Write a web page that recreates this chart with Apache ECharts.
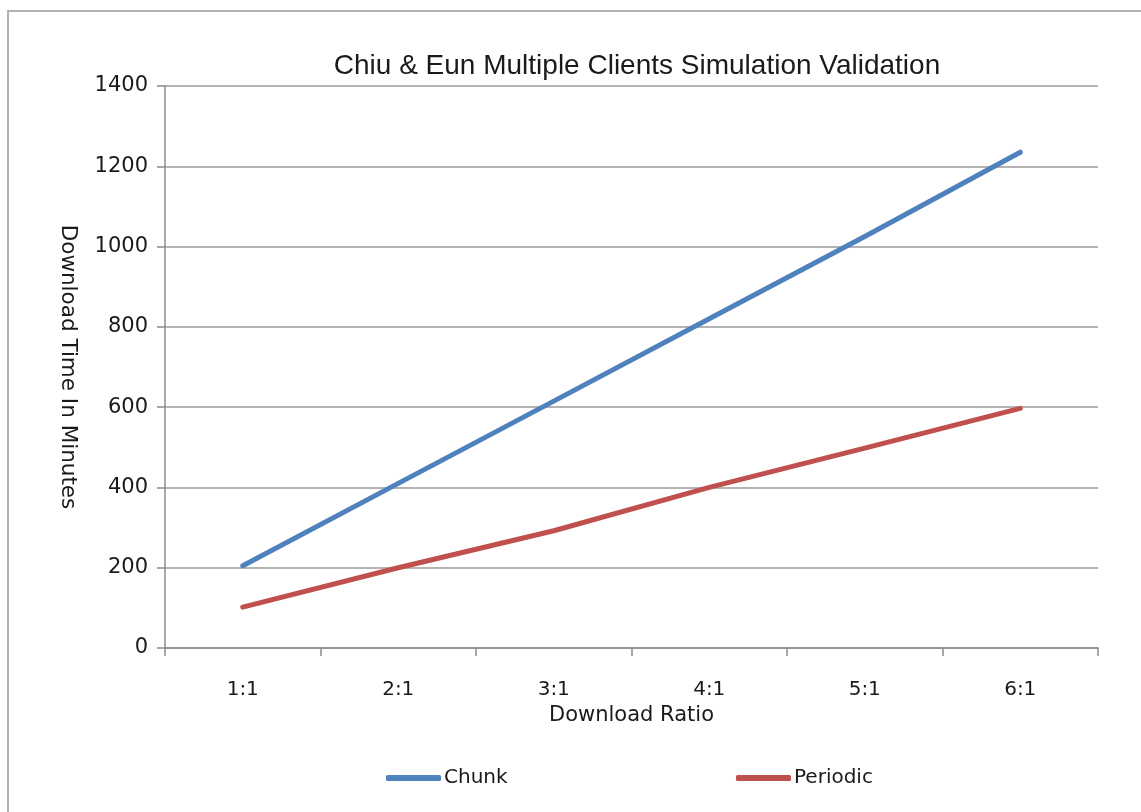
<!DOCTYPE html>
<html>
<head>
<meta charset="utf-8">
<script src="https://cdn.jsdelivr.net/npm/echarts@6/dist/echarts.min.js"></script>
<style>
html,body{margin:0;padding:0;background:#fff;}
#chart{width:1141px;height:812px;}
</style>
</head>
<body>
<div id="chart"></div>
<script>
const titleText = 'Chiu & Eun Multiple Clients Simulation Validation';
const categories = ['1:1', '2:1', '3:1', '4:1', '5:1', '6:1'];
const chunk = [205, 410, 615, 820, 1025, 1235];
const periodic = [102, 200, 292, 400, 498, 597];
const xName = 'Download Ratio';
const yName = 'Download Time In Minutes';

const labelFont = 'DejaVu Sans';
const textColor = '#1a1a1a';
const chart = echarts.init(document.getElementById('chart'));
chart.setOption({
  backgroundColor: '#fff',
  animation: false,
  graphic: [
    { type: 'polyline', shape: { points: [[8, 812], [8, 11], [1141, 11]] },
      style: { stroke: '#b0b0b0', lineWidth: 2, fill: null } }
  ],
  title: {
    text: titleText, left: 632, textAlign: 'center', top: 47,
    textStyle: { fontFamily: 'Liberation Sans', fontWeight: 'normal', fontSize: 28, color: textColor }
  },
  legend: [
    { data: ['Chunk'], left: 381, top: 763, icon: 'roundRect', itemWidth: 55, itemHeight: 6,
      textStyle: { fontFamily: labelFont, fontSize: 20, color: textColor, padding: [0, 0, 0, -2] } },
    { data: ['Periodic'], left: 731, top: 763, icon: 'roundRect', itemWidth: 55, itemHeight: 6,
      textStyle: { fontFamily: labelFont, fontSize: 20, color: textColor, padding: [0, 0, 0, -2] } }
  ],
  grid: { left: 165, right: 43, top: 86, bottom: 164, containLabel: false },
  xAxis: {
    type: 'category', data: categories, boundaryGap: true,
    name: xName, nameLocation: 'middle', nameGap: 55,
    nameTextStyle: { fontFamily: labelFont, fontSize: 21, color: textColor },
    axisLine: { lineStyle: { color: '#8c8c8c', width: 1.5 } },
    axisTick: { show: true, length: 8, lineStyle: { color: '#8c8c8c', width: 1.5 } },
    axisLabel: { fontFamily: labelFont, fontSize: 20, color: textColor, margin: 32 },
    splitLine: { show: false }
  },
  yAxis: {
    type: 'value', min: 0, max: 1400, interval: 200,
    name: yName, nameLocation: 'middle', nameGap: 86, nameRotate: -90,
    nameTextStyle: { fontFamily: labelFont, fontSize: 21.5, color: textColor },
    axisLine: { show: true, lineStyle: { color: '#8c8c8c', width: 1.5 } },
    axisTick: { show: true, length: 8, lineStyle: { color: '#8c8c8c', width: 1.5 } },
    axisLabel: { fontFamily: labelFont, fontSize: 21, color: textColor, margin: 17,
      formatter: function (v) { return String(v); } },
    splitLine: { show: true, lineStyle: { color: '#9a9a9a', width: 1.5 } }
  },
  series: [
    { name: 'Chunk', type: 'line', data: chunk, showSymbol: false, symbol: 'none',
      lineStyle: { color: '#4F81BD', width: 5, cap: 'round', join: 'round' }, itemStyle: { color: '#4F81BD' } },
    { name: 'Periodic', type: 'line', data: periodic, showSymbol: false, symbol: 'none',
      lineStyle: { color: '#C0504D', width: 5, cap: 'round', join: 'round' }, itemStyle: { color: '#C0504D' } }
  ]
});
</script>
</body>
</html>
